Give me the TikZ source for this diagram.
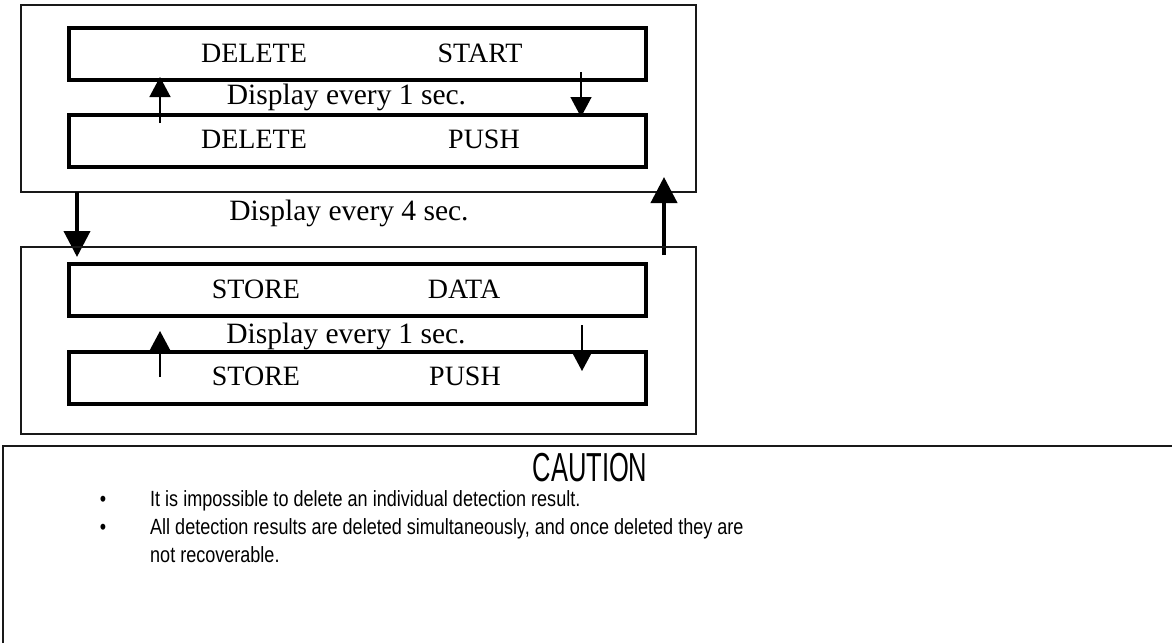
\documentclass[tikz,border=0pt]{standalone}
\usepackage{fontspec}
\setmainfont{Liberation Serif}
\newfontfamily\cautionfont[FakeStretch=0.63]{Liberation Sans}
\newfontfamily\notefont[FakeStretch=0.82]{Liberation Sans}
\usetikzlibrary{arrows.meta}
\begin{document}
\begin{tikzpicture}[x=1pt,y=-1pt,
  frame/.style={draw=black!90, line width=1.4pt, minimum width=675pt, minimum height=187pt, inner sep=0pt},
  panel/.style={draw, line width=4pt, minimum width=577pt, minimum height=52pt, inner sep=0pt},
  word/.style={inner sep=0pt, anchor=base, font=\fontsize{28}{30}\selectfont},
  interval/.style={inner sep=0pt, anchor=base, font=\fontsize{29.5}{31}\selectfont},
  thinarrow/.style={line width=1.5pt, -{Triangle[length=20pt,width=21pt]}},
  bigarrow/.style={line width=4pt, -{Triangle[length=26pt,width=26pt]}},
  notefnt/.style={font=\notefont\fontsize{22}{26}\selectfont},
  note/.style={notefnt, inner sep=0pt, anchor=base west},
  dot/.style={notefnt, inner sep=0pt, anchor=base}]
\useasboundingbox (0,0) rectangle (1172,643);

% DELETE group
\node[frame] (delframe) at (358.5,98.5) {};
\node[panel] (delstart) at (357.5,54) {};
\node[panel] (delpush) at (357.5,141) {};
\node[word] (w1) at (254,62) {DELETE};
\node[word] (w2) at (480,62) {START};
\node[interval] (d1) at (346.5,104) {Display every 1 sec.};
\node[word] (w3) at (254,148) {DELETE};
\node[word] (w4) at (484,148) {PUSH};
\coordinate (du1) at (160,123);
\coordinate (du2) at (160,77);
\coordinate (dd1) at (581,72);
\coordinate (dd2) at (581,117);
\draw[thinarrow] (du1) -- (du2);
\draw[thinarrow] (dd1) -- (dd2);

% transition between groups
\node[interval] (d4) at (349,220) {Display every 4 sec.};
\coordinate (bd1) at (77,192);
\coordinate (bd2) at (77,257);
\coordinate (bu1) at (664,255);
\coordinate (bu2) at (664,177);
\draw[bigarrow] (bd1) -- (bd2);
\draw[bigarrow] (bu1) -- (bu2);

% STORE group
\node[frame] (stoframe) at (358.5,340.5) {};
\node[panel] (stodata) at (357.5,290) {};
\node[panel] (stopush) at (357.5,378) {};
\node[word] (s1) at (256,298) {STORE};
\node[word] (s2) at (464,298) {DATA};
\node[interval] (d2) at (346,343) {Display every 1 sec.};
\node[word] (s3) at (256,385) {STORE};
\node[word] (s4) at (465,385) {PUSH};
\coordinate (su1) at (160,377);
\coordinate (su2) at (160,331);
\coordinate (sd1) at (582,325);
\coordinate (sd2) at (582,371);
\draw[thinarrow] (su1) -- (su2);
\draw[thinarrow] (sd1) -- (sd2);

% caution panel
\draw[black!90, line width=2pt] (3,643) -- (3,446) -- (1172,446);
\node[inner sep=0pt, anchor=base, font=\cautionfont\fontsize{40.5}{42}\selectfont] (caution) at (590,481) {CAUTION};
\node[dot] (b1) at (103,506) {\textbullet};
\node[note] (n1) at (150,506) {It is impossible to delete an individual detection result.};
\node[dot] (b2) at (103,534) {\textbullet};
\node[note] (n2) at (150,534) {All detection results are deleted simultaneously, and once deleted they are};
\node[note] (n3) at (150,562) {not recoverable.};
\end{tikzpicture}
\end{document}
